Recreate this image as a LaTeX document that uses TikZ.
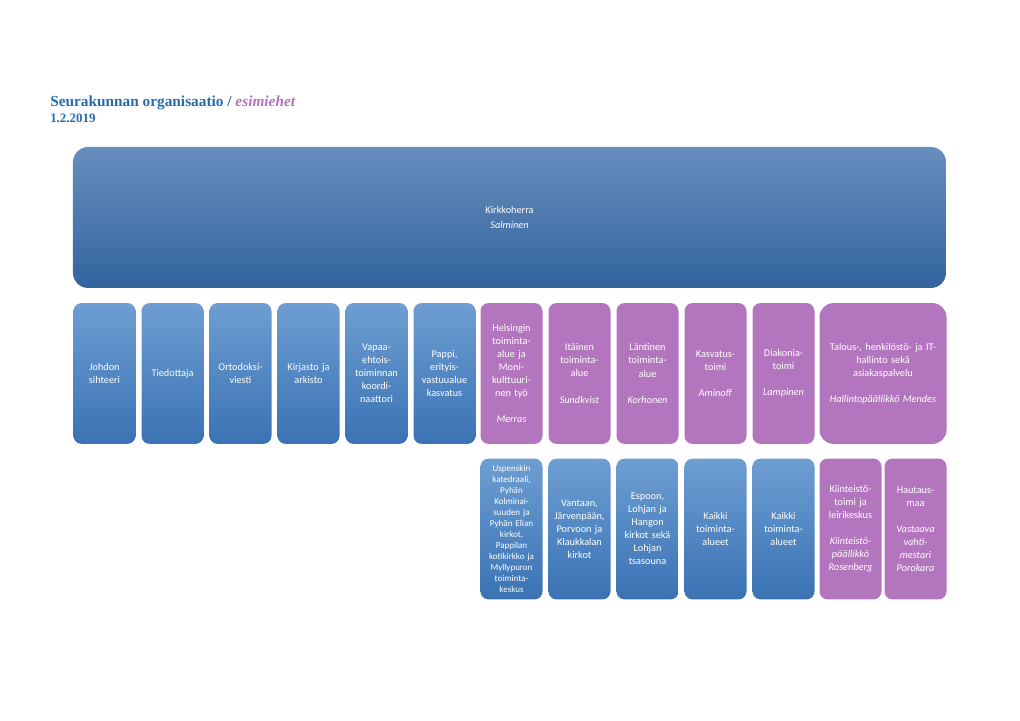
\documentclass[tikz,border=0pt]{standalone}
\usepackage{fontspec}
\setmainfont{Carlito}
\newfontfamily\titlefont{Liberation Serif}
\definecolor{bluetop}{RGB}{110,158,210}
\definecolor{bluebot}{RGB}{58,114,180}
\definecolor{bigtop}{RGB}{104,142,190}
\definecolor{bigbot}{RGB}{50,100,158}
\definecolor{purp}{RGB}{179,117,190}
\definecolor{titleblue}{RGB}{36,108,170}
\definecolor{titlepurp}{RGB}{180,112,190}
\tikzset{
  orgbox/.style={rounded corners=2mm, inner sep=0pt, align=center, text=white,
    font=\fontsize{7.3}{9.3}\selectfont},
  bluebox/.style={orgbox, top color=bluetop, bottom color=bluebot},
  purpbox/.style={orgbox, fill=purp},
  narrow/.style={minimum width=15.5mm, text width=14.5mm, minimum height=35.2mm},
}
\begin{document}
\begin{tikzpicture}[x=0.25mm,y=-0.25mm]
\useasboundingbox (0,0) rectangle (1020,721);
% title
\node[anchor=base west, inner sep=0pt, font=\titlefont\bfseries\fontsize{10.9}{12}\selectfont, text=titleblue] (title) at (50,107)
  {Seurakunnan organisaatio / \textcolor{titlepurp}{\itshape esimiehet}};
\node[anchor=base west, inner sep=0pt, font=\titlefont\bfseries\fontsize{9.2}{11}\selectfont, text=titleblue] (date) at (50,123) {1.2.2019};
% top box
\node[orgbox, rounded corners=3.8mm, top color=bigtop, bottom color=bigbot, minimum width=218.25mm, minimum height=35.25mm] (kh) at (509.5,217.5)
  {Kirkkoherra\\[2pt] \textit{Salminen}};
% row 1
\node[bluebox, narrow] (r1) at (104.5,373.5) {Johdon\\sihteeri};
\node[bluebox, narrow] (r2) at (172.5,373.5) {Tiedottaja};
\node[bluebox, narrow] (r3) at (240.5,373.5) {Ortodoksi-\\viesti};
\node[bluebox, narrow] (r4) at (308.5,373.5) {Kirjasto ja\\arkisto};
\node[bluebox, narrow] (r5) at (376.5,373.5) {Vapaa-\\ehtois-\\toiminnan\\koordi-\\naattori};
\node[bluebox, narrow] (r6) at (444.5,373.5) {Pappi,\\erityis-\\vastuualue\\kasvatus};
\node[purpbox, narrow] (r7) at (511.5,373.5) {Helsingin\\toiminta-\\alue ja\\Moni-\\kulttuuri-\\nen työ\\[9.3pt]\textit{Merras}};
\node[purpbox, narrow] (r8) at (579.5,373.5) {Itäinen\\toiminta-\\alue\\[9.3pt]\textit{Sundkvist}};
\node[purpbox, narrow] (r9) at (647.5,373.5) {Läntinen\\toiminta-\\alue\\[9.3pt]\textit{Korhonen}};
\node[purpbox, narrow] (r10) at (715.5,373.5) {Kasvatus-\\toimi\\[9.3pt]\textit{Aminoff}};
\node[purpbox, narrow] (r11) at (783.5,373.5) {Diakonia-\\toimi\\[9.3pt]\textit{Lampinen}};
\node[purpbox, rounded corners=3.5mm, minimum width=31.75mm, text width=30mm, minimum height=35.2mm] (r12) at (883,373.5)
  {Talous-, henkilöstö- ja IT-\\hallinto sekä\\asiakaspalvelu\\[9.3pt]\textit{Hallintopäällikkö Mendes}};
% row 2
\node[bluebox, narrow, font=\fontsize{6.4}{7.85}\selectfont] (s7) at (511.5,529) {Uspenskin\\katedraali,\\Pyhän\\Kolminai-\\suuden ja\\Pyhän Elian\\kirkot,\\Pappilan\\kotikirkko ja\\Myllypuron\\toiminta-\\keskus};
\node[bluebox, narrow] (s8) at (579.5,529) {Vantaan,\\Järvenpään,\\Porvoon ja\\Klaukkalan\\kirkot};
\node[bluebox, narrow] (s9) at (647.5,529) {Espoon,\\Lohjan ja\\Hangon\\kirkot sekä\\Lohjan\\tsasouna};
\node[bluebox, narrow] (s10) at (715.5,529) {Kaikki\\toiminta-\\alueet};
\node[bluebox, narrow] (s11) at (783.5,529) {Kaikki\\toiminta-\\alueet};
\node[purpbox, narrow] (s12) at (850.5,529) {Kiinteistö-\\toimi ja\\leirikeskus\\[9.3pt]\textit{Kiinteistö-}\\\textit{päällikkö}\\\textit{Rosenberg}};
\node[purpbox, narrow] (s13) at (915.5,529) {Hautaus-\\maa\\[9.3pt]\textit{Vastaava}\\\textit{vahti-}\\\textit{mestari}\\\textit{Porokara}};
\end{tikzpicture}
\end{document}
